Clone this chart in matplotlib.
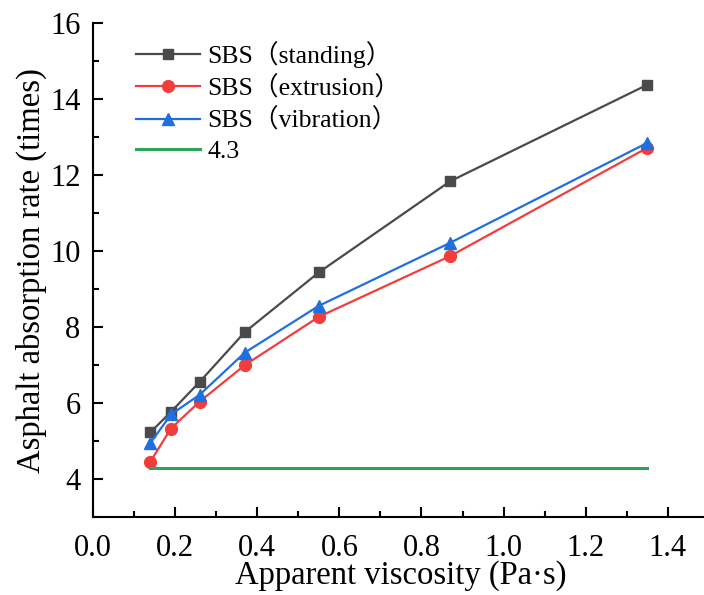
import matplotlib.pyplot as plt
from matplotlib.ticker import MultipleLocator

plt.rcParams['font.family'] = ['Liberation Serif', 'Noto Sans CJK SC']

# data
viscosity = [0.14, 0.19, 0.26, 0.37, 0.55, 0.87, 1.35]
standing = [5.23, 5.77, 6.56, 7.87, 9.44, 11.84, 14.38]
extrusion = [4.46, 5.33, 6.04, 7.00, 8.27, 9.87, 12.72]
vibration = [4.95, 5.70, 6.22, 7.33, 8.56, 10.22, 12.85]
baseline = 4.3

fig = plt.figure(figsize=(7.04, 5.95), dpi=100)
ax = fig.add_axes([0.132, 0.131, 0.875, 0.830])

ax.plot(viscosity, standing, color='#4a4a4a', lw=1.6, marker='s', ms=7.5,
        label='SBS（standing）')
ax.plot(viscosity, extrusion, color='#f23d3d', lw=1.6, marker='o', ms=8.5,
        label='SBS（extrusion）')
ax.plot(viscosity, vibration, color='#1f6fe0', lw=1.6, marker='^', ms=8.5,
        label='SBS（vibration）')
ax.plot([viscosity[0], viscosity[-1]], [baseline, baseline], color='#2aa55a',
        lw=2.2, label='4.3')

ax.set_xlim(0, 1.5)
ax.set_ylim(3, 16)
ax.xaxis.set_minor_locator(MultipleLocator(0.1))
ax.yaxis.set_minor_locator(MultipleLocator(1))
ax.set_xticks([0, 0.2, 0.4, 0.6, 0.8, 1.0, 1.2, 1.4])
ax.set_xticklabels(['0.0', '0.2', '0.4', '0.6', '0.8', '1.0', '1.2', '1.4'])
ax.set_yticks([4, 6, 8, 10, 12, 14, 16])

ax.spines['top'].set_visible(False)
ax.spines['right'].set_visible(False)
for s in ['left', 'bottom']:
    ax.spines[s].set_linewidth(1.5)
ax.tick_params(which='both', direction='in', width=1.5, labelsize=22)
ax.tick_params(which='major', length=7)
ax.tick_params(which='minor', length=4)
ax.tick_params(axis='x', which='major', pad=12)
ax.tick_params(axis='y', which='major', pad=9)

ax.set_xlabel('Apparent viscosity (Pa·s)', fontsize=23.5, labelpad=-2)
ax.set_ylabel('Asphalt absorption rate (times)', fontsize=23.5, labelpad=2)

ax.legend(loc='upper left', bbox_to_anchor=(0.04, 1.0), frameon=False,
          fontsize=18.5, handlelength=2.5, handletextpad=0.3, labelspacing=0.3,
          borderaxespad=0.3)

fig.savefig('out.png', dpi=100)
